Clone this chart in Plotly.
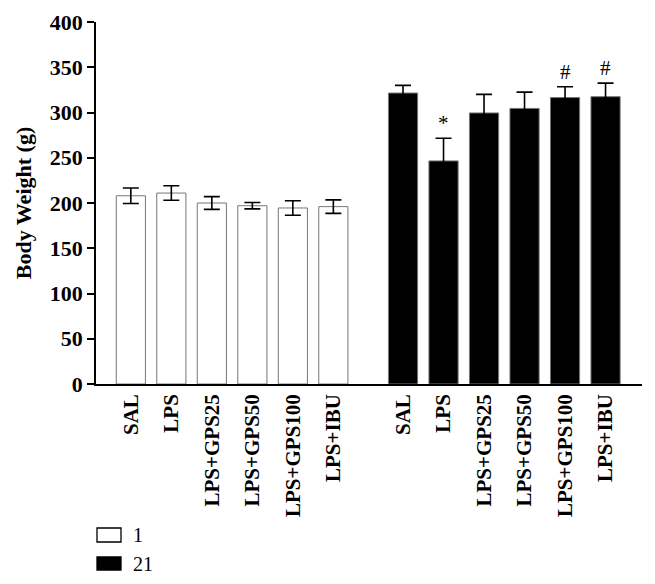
import plotly.graph_objects as go

categories = ["SAL", "LPS", "LPS+GPS25", "LPS+GPS50", "LPS+GPS100", "LPS+IBU"]
day1_mean = [208, 211, 200, 197, 194.5, 196]
day1_err = [8.5, 8, 7, 3.5, 8, 7.5]
day21_mean = [321.5, 246.5, 299.5, 304.5, 316.5, 317.5]
day21_err = [8.5, 25, 20.5, 18, 12, 15]
day21_marks = ["", "*", "", "", "#", "#"]
series_names = ["1", "21"]
series_colors = ["white", "black"]

GAP = 6.72
x1 = [i for i in range(len(categories))]
x2 = [GAP + i for i in range(len(categories))]

FONT = "Liberation Serif, Times New Roman, serif"

# page has 8px body margin; figure sized to fit the window
OFF = 8
W, H = 655 - 2 * OFF, 584 - 2 * OFF
ML, MT = 96 - OFF, 22 - OFF
PB = 384 - OFF          # plot bottom in figure px
PR = 642 - OFF          # plot right in figure px
MB, MR = H - PB, W - PR
plot_h = PB - MT
plot_w = PR - ML

fig = go.Figure()
fig.add_trace(go.Bar(
    x=x1, y=day1_mean, name=series_names[0], width=0.72,
    marker=dict(color=series_colors[0], line=dict(color="#777777", width=1)),
    error_y=dict(type="data", array=day1_err, color="black", thickness=1.6, width=8),
))
fig.add_trace(go.Bar(
    x=x2, y=day21_mean, name=series_names[1], width=0.72,
    marker=dict(color=series_colors[1], line=dict(color="#777777", width=1)),
    error_y=dict(type="data", array=day21_err, color="black", thickness=1.6, width=8),
))

for xv, m, e, t in zip(x2, day21_mean, day21_err, day21_marks):
    if t:
        fig.add_annotation(x=xv, y=m + e, text=t, showarrow=False, yanchor="bottom",
                           yshift=1, font=dict(family=FONT, size=21, color="black"))

# Legend drawn below the plot (paper coordinates)
legend_rows = [(528, 542), (557, 570)]
for (top, bot), name, col in zip(legend_rows, series_names, series_colors):
    y0 = (PB - (bot - OFF)) / plot_h
    y1 = (PB - (top - OFF)) / plot_h
    fig.add_shape(type="rect", xref="paper", yref="paper",
                  x0=(97 - 96) / plot_w, x1=(121 - 96) / plot_w, y0=y0, y1=y1,
                  fillcolor=col, line=dict(color="black", width=1.3))
    fig.add_annotation(xref="paper", yref="paper", x=(131 - 96) / plot_w, y=(y0 + y1) / 2,
                       text=name, showarrow=False, xanchor="left", yanchor="middle",
                       font=dict(family=FONT, size=20, color="black"))

fig.update_layout(
    width=W, height=H,
    margin=dict(l=ML, r=MR, t=MT, b=MB, autoexpand=False),
    paper_bgcolor="white", plot_bgcolor="white",
    barmode="overlay",
    font=dict(family=FONT, color="black"),
    showlegend=False,
)
fig.update_xaxes(
    range=[-0.86, 12.62], tickvals=x1 + x2, ticktext=categories + categories,
    tickangle=-90, showline=True, linecolor="black", linewidth=1.5,
    ticks="", showgrid=False, zeroline=False, automargin=False,
    tickfont=dict(family=FONT, size=21, color="black", weight="bold"),
)
fig.update_yaxes(
    range=[0, 400], dtick=50, showline=True, linecolor="black", linewidth=1.5,
    ticks="outside", ticklen=7, tickwidth=1.5, tickcolor="black",
    showgrid=False, zeroline=False, automargin=False,
    tickfont=dict(family=FONT, size=22, color="black", weight="bold"),
    title=dict(text="Body Weight (g)", standoff=12,
               font=dict(family=FONT, size=22, color="black", weight="bold")),
)
fig.write_html("out.html")
